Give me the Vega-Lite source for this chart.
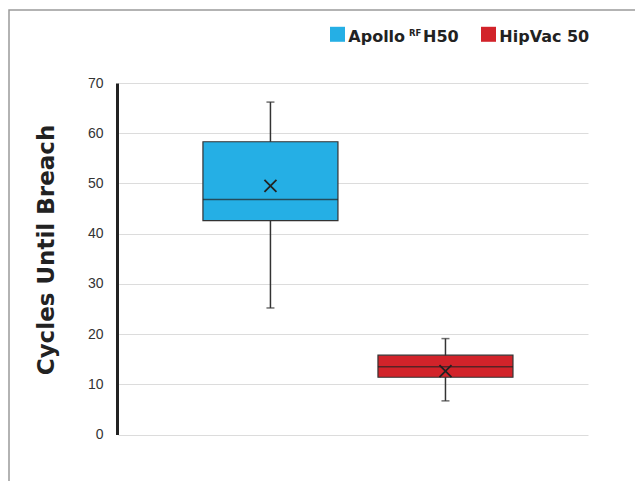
{
  "$schema": "https://vega.github.io/schema/vega-lite/v6.json",
  "autosize": {"type": "none"},
  "padding": {"left": 9, "top": 10, "right": -2, "bottom": -2},
  "width": 628,
  "height": 473,
  "background": "white",
  "config": {
    "view": {"stroke": "#9a9a9a", "strokeWidth": 1.5},
    "axis": {"labelFont": "Liberation Sans", "titleFont": "DejaVu Sans"}
  },
  "data": {
    "values": [
      {"product": "Apollo RF H50", "min": 25.2, "q1": 42.6, "median": 46.8, "q3": 58.3, "max": 66.2, "mean": 49.5, "label": "Apollo", "sup": "RF", "suffix": "H50"},
      {"product": "HipVac 50", "min": 6.7, "q1": 11.4, "median": 13.5, "q3": 15.8, "max": 19.1, "mean": 12.6, "label": "HipVac 50", "sup": "", "suffix": ""}
    ]
  },
  "layer": [
    {
      "encoding": {
        "x": {
          "field": "product", "type": "nominal", "axis": null,
          "scale": {"type": "band", "range": [109, 579], "paddingInner": 0.2286, "paddingOuter": 0.457, "align": 0.531}
        }
      },
      "layer": [
        {
          "mark": {"type": "rule", "color": "#333333", "strokeWidth": 1.5},
          "encoding": {
            "y": {
              "field": "min", "type": "quantitative",
              "scale": {"domain": [0, 70], "range": [424.5, 73], "nice": false, "zero": false},
              "axis": {
                "title": "Cycles Until Breach",
                "values": [0, 10, 20, 30, 40, 50, 60, 70],
                "offset": -108,
                "grid": true, "gridColor": "#dcdcdc", "gridWidth": 1,
                "domainColor": "#222222", "domainWidth": 3,
                "ticks": false,
                "labelFontSize": 14, "labelColor": "#333333", "labelPadding": 14,
                "titleFontSize": 23, "titleFontWeight": "bold", "titleColor": "#222222",
                "titleAngle": 270, "titleAlign": "center", "titleBaseline": "alphabetic",
                "titleX": -63.5, "titleY": 239.5
              }
            },
            "y2": {"field": "max"}
          }
        },
        {
          "mark": {"type": "tick", "color": "#333333", "size": 8, "thickness": 1.5},
          "encoding": {"y": {"field": "min", "type": "quantitative"}}
        },
        {
          "mark": {"type": "tick", "color": "#333333", "size": 8, "thickness": 1.5},
          "encoding": {"y": {"field": "max", "type": "quantitative"}}
        },
        {
          "mark": {"type": "bar", "stroke": "#333333", "strokeWidth": 1.2, "opacity": 1},
          "encoding": {
            "y": {"field": "q1", "type": "quantitative"},
            "y2": {"field": "q3"},
            "color": {
              "field": "product", "type": "nominal", "legend": null,
              "scale": {"domain": ["Apollo RF H50", "HipVac 50"], "range": ["#25AFE5", "#D2232A"]}
            }
          }
        },
        {
          "mark": {"type": "tick", "color": "#222222", "size": 135, "thickness": 1.5},
          "encoding": {"y": {"field": "median", "type": "quantitative"}}
        },
        {
          "mark": {"type": "point", "shape": "M-1,-1L1,1M-1,1L1,-1", "size": 144, "filled": false, "stroke": "#222222", "strokeWidth": 1.8, "opacity": 1},
          "encoding": {"y": {"field": "mean", "type": "quantitative"}}
        }
      ]
    },
    {
      "encoding": {
        "x": {
          "field": "product", "type": "nominal", "axis": null,
          "scale": {"type": "point", "range": [328.5, 479.5], "padding": 0}
        }
      },
      "layer": [
        {
          "mark": {"type": "point", "shape": "square", "size": 225, "filled": true, "opacity": 1, "strokeWidth": 0},
          "encoding": {
            "y": {"datum": 79.7, "type": "quantitative"},
            "color": {"field": "product", "type": "nominal", "legend": null}
          }
        },
        {
          "mark": {"type": "text", "align": "left", "baseline": "alphabetic", "dx": 10.8, "font": "DejaVu Sans", "fontWeight": "bold", "fontSize": 16, "color": "#222222"},
          "encoding": {
            "y": {"datum": 78.25, "type": "quantitative"},
            "text": {"field": "label"}
          }
        },
        {
          "mark": {"type": "text", "align": "left", "baseline": "alphabetic", "dx": 71.5, "dy": -6, "font": "DejaVu Sans", "fontWeight": "bold", "fontSize": 8.5, "color": "#222222"},
          "encoding": {
            "y": {"datum": 78.25, "type": "quantitative"},
            "text": {"field": "sup"}
          }
        },
        {
          "mark": {"type": "text", "align": "left", "baseline": "alphabetic", "dx": 85.5, "font": "DejaVu Sans", "fontWeight": "bold", "fontSize": 16, "color": "#222222"},
          "encoding": {
            "y": {"datum": 78.25, "type": "quantitative"},
            "text": {"field": "suffix"}
          }
        }
      ]
    }
  ],
  "resolve": {"scale": {"x": "independent"}, "axis": {"x": "independent"}}
}
